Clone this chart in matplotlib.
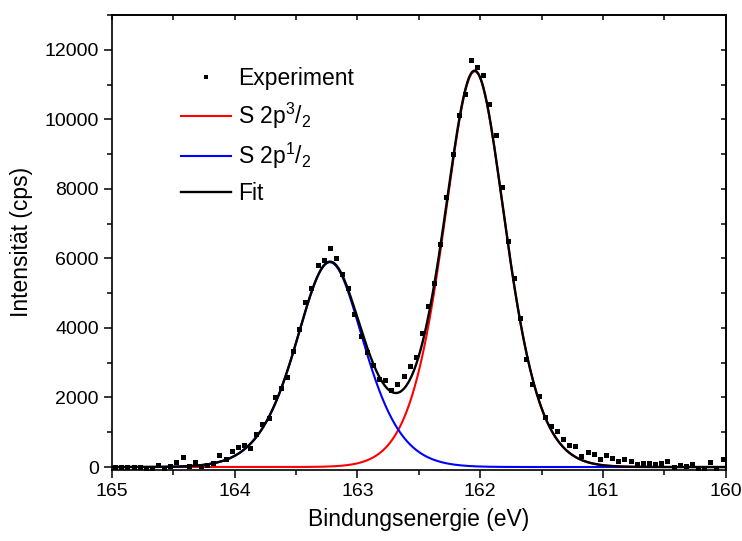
import matplotlib.pyplot as plt
import numpy as np
from matplotlib.ticker import MultipleLocator

plt.rcParams['font.family'] = ['Liberation Sans', 'DejaVu Sans']
plt.rcParams['mathtext.default'] = 'regular'

# measured spectrum, 0.05 eV steps from 164.975 eV down to 160.025 eV
energies = np.round(np.arange(164.975, 160.0, -0.05), 3)
counts = [0, 0, 0, 0, 0, -20, -40, 60, -40, 20,
          153, 288, 20, 153, 30, 60, 106, 345, 221, 470,
          585, 633, 556, 950, 1247, 1419, 2023, 2283, 2599, 3347,
          3972, 4757, 5160, 5805, 5949, 6294, 6024, 5563, 5143, 4412,
          3779, 3300, 2936, 2533, 2504, 2216, 2379, 2619, 2916, 3157,
          3866, 4634, 5305, 6427, 7779, 9008, 10111, 10736, 11693, 11492,
          11262, 10447, 9555, 8039, 6513, 5448, 4297, 3108, 2380, 2043,
          1448, 1189, 1036, 806, 633, 595, 317, 441, 374, 240,
          345, 249, 182, 230, 173, 77, 125, 125, 86, 125,
          173, -10, 48, 29, 96, -48, -48, 144, -48, 240]

# fit components (Gauss-Lorentz product): S 2p3/2, S 2p1/2
centers = [162.045, 163.225]
heights = [11380, 5890]
fwhms = [0.63, 0.69]
lorentz_mix = 0.55


def gl_product(x, x0, h, w, m):
    u = (2 * (x - x0) / w) ** 2
    return h * np.exp(-np.log(2) * (1 - m) * u) / (1 + m * u)


e_fit = np.linspace(165, 160, 600)
p32 = gl_product(e_fit, centers[0], heights[0], fwhms[0], lorentz_mix)
p12 = gl_product(e_fit, centers[1], heights[1], fwhms[1], lorentz_mix)
fit = p32 + p12

fig = plt.figure(figsize=(7.42, 5.41), dpi=100)
ax = fig.add_axes([0.151, 0.1316, 0.827, 0.8407])

l_red, = ax.plot(e_fit, p32, color='#ff0000', lw=1.5, zorder=2)
l_blue, = ax.plot(e_fit, p12, color='#0000ff', lw=1.5, zorder=2)
l_fit, = ax.plot(e_fit, fit, color='black', lw=1.7, zorder=3)
pts, = ax.plot(energies, counts, 's', color='black', ms=3.6, mew=0, zorder=4)

ax.legend([pts, l_red, l_blue, l_fit],
          ['Experiment', r'S 2p$^3$/$_2$', r'S 2p$^1$/$_2$', 'Fit'],
          loc='upper left', bbox_to_anchor=(0.112, 0.885), frameon=False,
          fontsize=16.5, numpoints=1, handlelength=2.2, handletextpad=0.3,
          labelspacing=0.45, borderpad=0, borderaxespad=0, markerscale=0.9)

ax.set_xlim(165, 160)
ax.set_ylim(-80, 13000)
ax.set_xticks([165, 164, 163, 162, 161, 160])
ax.xaxis.set_minor_locator(MultipleLocator(0.5))
ax.set_yticks(range(0, 12001, 2000))
ax.yaxis.set_minor_locator(MultipleLocator(1000))
ax.tick_params(which='major', direction='out', length=6, width=1.1, labelsize=14)
ax.tick_params(which='minor', direction='out', length=3.5, width=1.1)

top = ax.secondary_xaxis('top')
top.set_xticks(np.arange(160, 165.01, 0.5))
top.tick_params(direction='in', length=3.5, width=1.1, labeltop=False)
right = ax.secondary_yaxis('right')
right.set_yticks(range(0, 13001, 1000))
right.tick_params(direction='in', length=3.5, width=1.1, labelright=False)

for a in (ax, top, right):
    for s in a.spines.values():
        s.set_linewidth(1.2)

ax.set_xlabel('Bindungsenergie (eV)', fontsize=16.5, labelpad=6)
ax.set_ylabel('Intensität (cps)', fontsize=16.5, labelpad=8)

fig.savefig('out.png', dpi=100)
